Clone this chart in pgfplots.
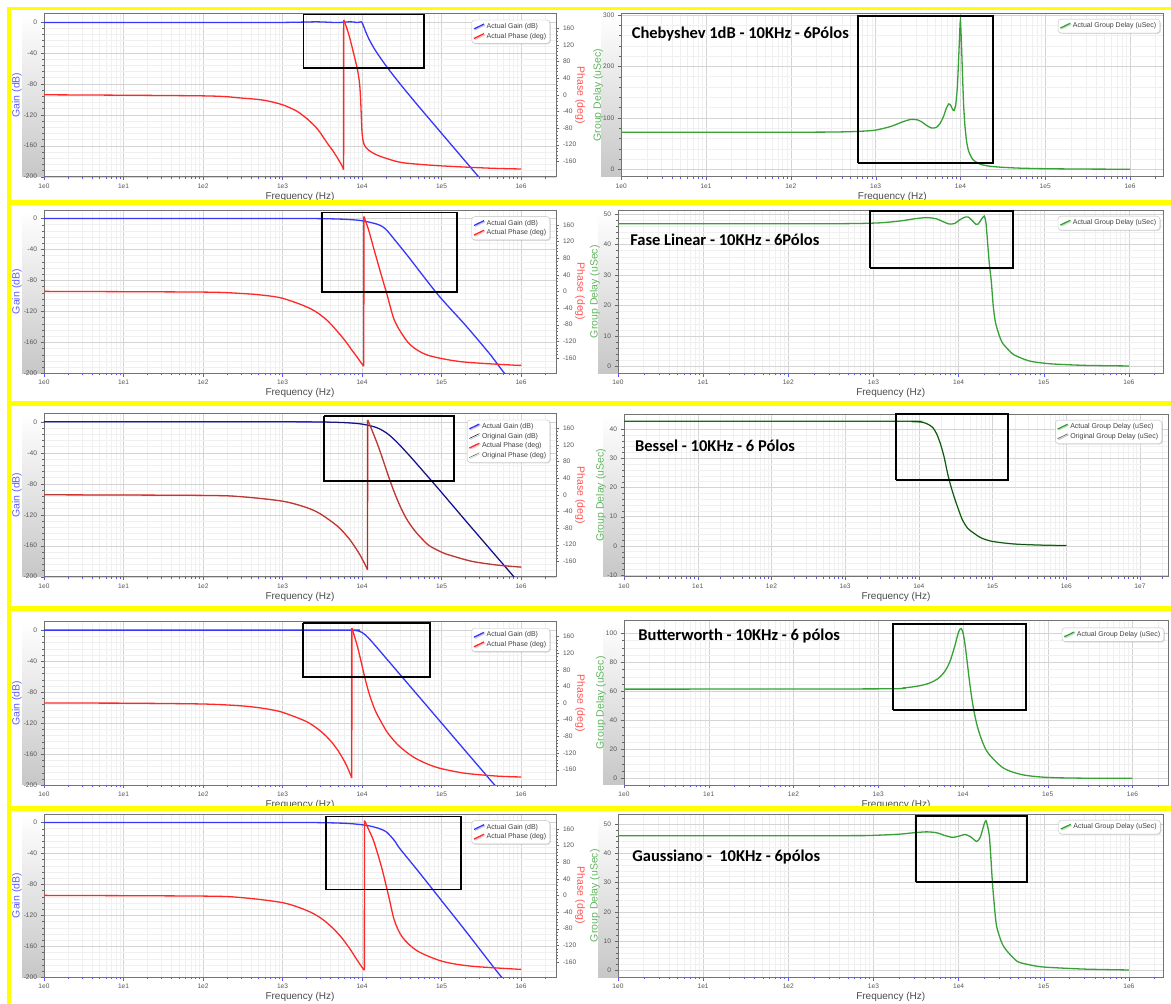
\documentclass[border=0pt]{standalone}
\usepackage{fontspec}
\setmainfont{Liberation Sans}
\newfontfamily\titlefont{Carlito}
\usepackage{pgfplots}
\pgfplotsset{compat=1.18}
\usetikzlibrary{shadows}

\definecolor{gaincol}{RGB}{55,55,250}
\definecolor{phasecol}{RGB}{255,40,40}
\definecolor{gdcol}{RGB}{55,160,55}
\definecolor{gainlbl}{RGB}{95,95,255}
\definecolor{phaselbl}{RGB}{255,85,85}
\definecolor{gdlbl}{RGB}{95,180,95}
\definecolor{ticklbl}{RGB}{85,85,85}
\definecolor{ylw}{RGB}{255,255,0}
\definecolor{origph}{RGB}{70,95,80}

\pgfplotsset{
  rkBase/.style={
    tick align=outside, major tick length=3.5pt, minor tick length=2pt,
    tick label style={font=\fontsize{6.6}{7}\selectfont, text=ticklbl},
    axis line style={black!55},
    legend cell align=left,
    legend style={font=\fontsize{7}{8}\selectfont, text=black!75, draw=black!25,
      rounded corners=3pt, fill=white, inner sep=1.6pt, row sep=-1pt,
      at={(1,1)}, anchor=north east,
      drop shadow={shadow xshift=1pt, shadow yshift=-1pt, opacity=0.25}},
    legend image code/.code={\draw[##1] (0pt,-2pt) -- (10pt,2.8pt);},
  },
  rkLow/.style={
    rkBase,
    xtick={1,10,100,1000,10000,100000,1000000,10000000},
    xticklabels={1e0,1e1,1e2,1e3,1e4,1e5,1e6,1e7},
    minor xtick={2,3,4,5,6,7,8,9,20,30,40,50,60,70,80,90,200,300,400,500,600,700,800,900,2000,3000,4000,5000,6000,7000,8000,9000,20000,30000,40000,50000,60000,70000,80000,90000,200000,300000,400000,500000,600000,700000,800000,900000,2000000,3000000,4000000,5000000,6000000,7000000,8000000,9000000,20000000},
    xtick pos=bottom, ytick pos=left,
    xtick style={color=blue!65},
    ytick style={color=black!60},
    grid=both,
    major grid style={black!17, line width=0.35pt},
    minor grid style={black!6, line width=0.35pt},
    xlabel={Frequency (Hz)},
    xlabel style={font=\fontsize{10}{12}\selectfont, text=black!70,
      at={(axis description cs:0.5,0)}, anchor=center, yshift=-20pt},
  },
  rkGain/.style={
    rkLow, width=512pt, height=163.4pt, xmax=2.75e6,
    ymin=-200, ymax=11,
    ytick={-200,-160,-120,-80,-40,0},
    yticklabels={-200,-160,-120,-80,-40,0},
    minor y tick num=4,
    ylabel={Gain (dB)},
    every axis y label/.style={at={(axis description cs:0,0.5)}, xshift=-27pt,
      rotate=90, anchor=center, font=\fontsize{10.5}{12}\selectfont, text=gainlbl},
  },
  rkPhase/.style={
    rkBase, width=512pt, height=163.4pt, xmax=2.75e6,
    axis x line=none, axis y line*=right,
    ymin=-197, ymax=196,
    ytick={-160,-120,-80,-40,0,40,80,120,160},
    yticklabels={-160,-120,-80,-40,0,40,80,120,160},
    minor y tick num=4,
    ytick style={color=black!60},
    ylabel={Phase (deg)},
    every axis y label/.style={at={(axis description cs:1,0.5)}, xshift=24pt,
      rotate=-90, anchor=center, font=\fontsize{10.5}{12}\selectfont, text=phaselbl},
    legend style={xshift=-6pt, yshift=-6.5pt},
  },
  rkGD/.style={
    rkLow, minor y tick num=4,
    ylabel={Group Delay (uSec)},
    every axis y label/.style={at={(axis description cs:0,0.5)}, xshift=-23pt,
      rotate=90, anchor=center, font=\fontsize{10.5}{12}\selectfont, text=gdlbl},
  },
}
\tikzset{
  rkG/.style={gaincol, line width=1.3pt},
  rkP/.style={phasecol, line width=1.3pt},
  rkV/.style={color=phasecol, line width=1.4pt, sharp plot},
  rkD/.style={gdcol, line width=1.3pt},
  rkBox/.style={black, line width=1.8pt},
  rkTtl/.style={anchor=west, font=\titlefont\bfseries\fontsize{16.5}{19}\selectfont},
  rkS/.style={smooth, tension=0.5},
}

\begin{document}
\begin{tikzpicture}
\useasboundingbox (0pt,0pt) rectangle (1171pt,1004pt);
\fill[white] (0pt,0pt) rectangle (1171pt,1004pt);

\shade[top color=white, bottom color=black!22] (22pt,827.3pt) rectangle (44pt,990.7pt);
\shade[top color=white, bottom color=black!22] (22pt,630.7pt) rectangle (44pt,794pt);
\shade[top color=white, bottom color=black!22] (22pt,427.3pt) rectangle (44pt,590.7pt);
\shade[top color=white, bottom color=black!22] (22pt,219pt) rectangle (44pt,382.3pt);
\shade[top color=white, bottom color=black!22] (22pt,26.7pt) rectangle (44pt,190pt);
\shade[top color=white, bottom color=black!22] (601pt,827.3pt) rectangle (621.2pt,990.7pt);
\shade[top color=white, bottom color=black!22] (598pt,630.7pt) rectangle (618pt,794pt);
\shade[top color=white, bottom color=black!22] (603pt,427.3pt) rectangle (624pt,590pt);
\shade[top color=white, bottom color=black!22] (603pt,219pt) rectangle (624pt,383.3pt);
\shade[top color=white, bottom color=black!22] (598pt,26.7pt) rectangle (618pt,190pt);

%================ ROW 1 : Chebyshev =================
\begin{axis}[xmode=log, xmin=1, scale only axis, rkGain, at={(44pt,827.3pt)}, anchor=south west]
\addplot[rkG, rkS] coordinates {(1,-1) (300,-0.97) (1000,-0.8) (2000,-0.3) (2600,0) (3500,-0.4) (4500,-0.9) (5000,-1) (6000,-0.4) (7100,0) (8000,-0.4) (8700,-1) (9300,-0.4) (9700,0) (10000,-1) (10500,-6) (11000,-11.6) (12000,-20.6) (13500,-30.5) (15000,-38.3) (20000,-56.7) (30000,-80) (50000,-107.6) (100000,-144) (200000,-180.3) (294000,-200.4) (320000,-204.4)};
\end{axis}
\begin{axis}[xmode=log, xmin=1, scale only axis, rkPhase, at={(44pt,827.3pt)}, anchor=south west]
\addlegendimage{rkG}
\addlegendentry{Actual Gain (dB)}
\addplot[rkP, rkS] coordinates {(1,0) (100,-2.6) (300,-7.8) (578,-13) (1000,-24) (1500,-39) (1780,-49) (2000,-56.3) (2600,-77) (3000,-92) (3800,-121) (4200,-132) (4800,-149) (5500,-168) (5800,-178) (5850,-180)};
\addlegendentry{Actual Phase (deg)}
\addplot[rkV, forget plot] coordinates {(5850,-180) (5880,180)};
\addplot[rkP, rkS, forget plot] coordinates {(5880,180) (6300,165.4) (6800,145.6) (7300,123.6) (7700,105.5) (8100,88.2) (8400,75.8) (8800,58.6) (9300,28) (9600,-12) (9800,-55) (10000,-91) (10300,-110) (10700,-121) (11200,-127) (12100,-133) (14000,-141) (17800,-149.5) (28700,-161.5) (44000,-166) (100000,-171) (400000,-176.5) (1000000,-178.5)};
\addplot[rkBox, forget plot] coordinates {(1832,193.2) (59800,193.2) (59800,63.8) (1832,63.8) (1832,193.2)};
\end{axis}

\begin{axis}[xmode=log, xmin=1, scale only axis, rkGD, at={(621.2pt,827.3pt)}, anchor=south west, width=542.3pt, height=163.4pt,
  xmax=2.48e6, ymin=-14.4, ymax=303, ytick={0,100,200,300}, yticklabels={0,100,200,300},
  legend style={xshift=-3.5pt, yshift=-5.7pt}]
\addplot[rkD, smooth, tension=0.35] coordinates {(1,72) (100,72) (300,72.3) (500,73) (700,74) (1000,76) (1500,83) (2000,91) (2400,95.5) (2700,97) (3100,96) (3500,92) (4000,85) (4500,80.5) (4800,80) (5200,81.5) (5700,88) (6300,102) (6800,118) (7300,127) (7700,124) (8100,116) (8400,114) (8800,125) (9200,160) (9500,210) (9800,265) (10000,291) (10300,240) (10600,180) (10900,125) (11300,85) (11800,55) (12500,35) (14000,19) (17000,10) (22000,6) (30000,4) (50000,2.2) (100000,1.1) (300000,0.4) (1000000,0.1)};
\addlegendentry{Actual Group Delay (uSec)}
\addplot[rkBox, forget plot] coordinates {(614,12.8) (24400,12.8) (24400,298) (614,298) (614,12.8)};
\node[rkTtl] at (axis description cs:0.013,0.873) {Chebyshev 1dB - 10KHz - 6Pólos};
\end{axis}

%================ ROW 2 : Fase Linear =================
\begin{axis}[xmode=log, xmin=1, scale only axis, rkGain, at={(44pt,630.7pt)}, anchor=south west]
\addplot[rkG, rkS] coordinates {(1,0) (1000,-0.05) (3000,-0.3) (5000,-0.8) (7000,-1.5) (10000,-3) (15000,-7) (18000,-10.5) (20700,-15.8) (25000,-26) (30000,-36) (40000,-52) (50000,-65) (86000,-96) (120000,-113) (200000,-138) (400000,-174.5) (620000,-200) (800000,-210)};
\end{axis}
\begin{axis}[xmode=log, xmin=1, scale only axis, rkPhase, at={(44pt,630.7pt)}, anchor=south west]
\addlegendimage{rkG}
\addlegendentry{Actual Gain (dB)}
\addplot[rkP, rkS] coordinates {(1,0) (100,-1.7) (300,-5) (525,-8.5) (1000,-16.6) (2200,-40.7) (3600,-68.8) (5800,-113) (7500,-142) (8600,-157) (9500,-169) (10500,-180)};
\addlegendentry{Actual Phase (deg)}
\addplot[rkV, forget plot] coordinates {(10500,-180) (10550,180)};
\addplot[rkP, rkS, forget plot] coordinates {(10550,180) (12000,150) (14000,104) (17000,47) (20700,-9) (25000,-65) (30500,-97) (40700,-129) (66000,-153) (174000,-169) (740000,-177) (1000000,-178)};
\addplot[rkBox, forget plot] coordinates {(3110,189.9) (155000,189.9) (155000,-1.4) (3110,-1.4) (3110,189.9)};
\end{axis}

\begin{axis}[xmode=log, xmin=1, scale only axis, rkGD, at={(618pt,630.7pt)}, anchor=south west, width=545.5pt, height=163.3pt,
  xmax=2.55e6, ymin=-2.2, ymax=51.3, ytick={0,10,20,30,40,50}, yticklabels={0,10,20,30,40,50},
  legend style={xshift=-3.5pt, yshift=-6pt}]
\addplot[rkD, smooth, tension=0.4] coordinates {(1,46.8) (300,46.8) (1000,47.0) (1500,47.3) (2200,47.8) (3000,48.4) (4200,48.8) (5500,48.4) (6800,47.3) (7800,46.7) (9000,46.9) (10500,48.2) (12000,49.0) (13000,49.0) (14500,47.8) (16000,46.6) (17000,46.7) (18500,48.2) (20000,49.3) (21000,47) (22000,40) (23000,33.5) (24200,28) (25500,20) (27000,14.7) (30000,10.2) (33000,7.6) (40000,5) (45000,3.8) (60000,2.3) (74000,1.6) (120000,0.9) (300000,0.4) (1000000,0.2)};
\addlegendentry{Actual Group Delay (uSec)}
\addplot[rkBox, forget plot] coordinates {(920,32.3) (44000,32.3) (44000,51) (920,51) (920,32.3)};
\node[rkTtl] at (axis description cs:0.016,0.816) {Fase Linear - 10KHz - 6Pólos};
\end{axis}

%================ ROW 3 : Bessel =================
\begin{axis}[xmode=log, xmin=1, scale only axis, rkGain, at={(44pt,427.3pt)}, anchor=south west]
\addplot[rkG, rkS] coordinates {(1,0) (1000,-0.03) (3000,-0.26) (5000,-0.72) (7000,-1.42) (10000,-2.96) (15000,-7.17) (20000,-13.93) (25000,-22.2) (30000,-30.34) (40000,-44.3) (50000,-55.54) (70000,-72.8) (100000,-91.2) (200000,-127.5) (500000,-175) (810000,-200) (1000000,-211)};
\addplot[black, line width=0.7pt, opacity=0.7, rkS] coordinates {(1,0) (1000,-0.03) (3000,-0.26) (5000,-0.72) (7000,-1.42) (10000,-2.96) (15000,-7.17) (20000,-13.93) (25000,-22.2) (30000,-30.34) (40000,-44.3) (50000,-55.54) (70000,-72.8) (100000,-91.2) (200000,-127.5) (500000,-175) (810000,-200) (1000000,-211)};
\end{axis}
\begin{axis}[xmode=log, xmin=1, scale only axis, rkPhase, at={(44pt,427.3pt)}, anchor=south west]
\addlegendimage{rkG}
\addlegendentry{Actual Gain (dB)}
\addlegendimage{black, line width=0.5pt}
\addlegendentry{Original Gain (dB)}
\addplot[rkP, rkS] coordinates {(1,0) (100,-1.5) (300,-4.6) (1000,-15.4) (2000,-30.7) (3000,-46.1) (5000,-76.9) (7000,-107.6) (9000,-138.3) (10000,-153.7) (10900,-167.5) (11700,-180)};
\addlegendentry{Actual Phase (deg)}
\addlegendimage{origph, line width=0.5pt}
\addlegendentry{Original Phase (deg)}
\addplot[rkV, color=phasecol!80!black, forget plot] coordinates {(11700,-180) (11760,180)};
\addplot[rkP, rkS, forget plot] coordinates {(11760,180) (13000,160.7) (15400,125.1) (17500,95.3) (19500,68.8) (22000,39.2) (24500,14.3) (27500,-9.9) (31000,-32.5) (35000,-52.5) (39000,-67.5) (46000,-86.3) (56000,-104.8) (70000,-122.4) (100000,-138) (126000,-145) (240000,-160) (500000,-169) (1000000,-174)};
\addplot[origph, line width=0.7pt, opacity=0.6, rkS, forget plot] coordinates {(1,0) (100,-1.5) (300,-4.6) (1000,-15.4) (2000,-30.7) (3000,-46.1) (5000,-76.9) (7000,-107.6) (9000,-138.3) (10000,-153.7) (10900,-167.5) (11700,-180)};
\addplot[origph, line width=0.7pt, opacity=0.6, rkS, forget plot] coordinates {(11760,180) (13000,160.7) (15400,125.1) (17500,95.3) (19500,68.8) (22000,39.2) (24500,14.3) (27500,-9.9) (31000,-32.5) (35000,-52.5) (39000,-67.5) (46000,-86.3) (56000,-104.8) (70000,-122.4) (100000,-138) (126000,-145) (240000,-160) (500000,-169) (1000000,-174)};
\addplot[rkBox, forget plot] coordinates {(3350,189.1) (145000,189.1) (145000,34) (3350,34) (3350,189.1)};
\end{axis}

\begin{axis}[xmode=log, xmin=1, scale only axis, rkGD, at={(624pt,427.3pt)}, anchor=south west, width=544pt, height=162.7pt,
  xmax=2.4e7, ymin=-10.6, ymax=45.2, ytick={-10,0,10,20,30,40}, yticklabels={-10,0,10,20,30,40},
  legend style={xshift=-6pt, yshift=-6pt}]
\addplot[rkD, rkS] coordinates {(1,42.7) (5000,42.7) (8000,42.6) (10900,42.4) (13000,41.8) (15400,40.6) (17500,38.3) (19500,35.2) (22000,30.5) (24500,24.9) (27500,20) (31000,15.8) (35000,12) (39000,8.9) (46000,6) (56000,4.3) (70000,2.7) (100000,1.5) (200000,0.6) (500000,0.2) (1000000,0.1)};
\addlegendentry{Actual Group Delay (uSec)}
\addplot[black, line width=0.7pt, opacity=0.6, rkS] coordinates {(1,42.7) (5000,42.7) (8000,42.6) (10900,42.4) (13000,41.8) (15400,40.6) (17500,38.3) (19500,35.2) (22000,30.5) (24500,24.9) (27500,20) (31000,15.8) (35000,12) (39000,8.9) (46000,6) (56000,4.3) (70000,2.7) (100000,1.5) (200000,0.6) (500000,0.2) (1000000,0.1)};
\addlegendentry{Original Group Delay (uSec)}
\addplot[rkBox, forget plot] coordinates {(4900,22.6) (162000,22.6) (162000,45.1) (4900,45.1) (4900,22.6)};
\node[rkTtl] at (axis description cs:0.014,0.803) {Bessel - 10KHz - 6 Pólos};
\end{axis}

%================ ROW 4 : Butterworth =================
\begin{axis}[xmode=log, xmin=1, scale only axis, rkGain, at={(44pt,219pt)}, anchor=south west]
\addplot[rkG, rkS] coordinates {(1,0) (5000,0) (7000,-0.06) (8000,-0.29) (9000,-1.08) (10000,-3.01) (11000,-6.17) (12000,-9.96) (13000,-13.86) (15000,-21.16) (20000,-36.12) (30000,-57.26) (50000,-83.9) (100000,-120) (200000,-156.1) (400000,-192.2) (500000,-203.6)};
\end{axis}
\begin{axis}[xmode=log, xmin=1, scale only axis, rkPhase, at={(44pt,219pt)}, anchor=south west]
\addlegendimage{rkG}
\addlegendentry{Actual Gain (dB)}
\addplot[rkP, rkS] coordinates {(1,0) (10,-0.2) (100,-2.2) (300,-6.6) (500,-11.1) (700,-15.5) (1000,-22.2) (2000,-44.5) (3000,-67.2) (4000,-90.4) (5000,-114.5) (6000,-139.9) (6500,-153.4) (7000,-167.5) (7420,-180)};
\addlegendentry{Actual Phase (deg)}
\addplot[rkV, forget plot] coordinates {(7420,-180) (7460,180)};
\addplot[rkP, rkS, forget plot] coordinates {(7460,180) (8000,161.8) (8500,144.8) (9000,126.9) (9500,108.4) (10000,90) (11000,56.4) (12000,29.4) (13000,8.3) (15000,-22) (20000,-65.5) (25000,-89.6) (30000,-105.2) (40000,-124.2) (50000,-135.5) (70000,-148.3) (100000,-157.8) (200000,-168.9) (500000,-175.6) (1000000,-177.8)};
\addplot[rkBox, forget plot] coordinates {(1820,193) (71000,193) (71000,61.9) (1820,61.9) (1820,193)};
\end{axis}

\begin{axis}[xmode=log, xmin=1, scale only axis, rkGD, at={(624pt,219pt)}, anchor=south west, width=544pt, height=164.3pt,
  xmax=2.63e6, ymin=-4.6, ymax=108.7, ytick={0,20,40,60,80,100}, yticklabels={0,20,40,60,80,100},
  minor y tick num=3,
  legend style={xshift=-4pt, yshift=-7pt}]
\addplot[rkD, rkS] coordinates {(1,61.5) (1000,61.7) (2000,62.4) (3000,63.7) (4000,65.6) (5000,68.5) (6000,73.1) (7000,80.3) (8000,91.1) (8500,97) (9000,101.7) (9500,103.3) (10000,100.5) (10500,93.7) (11000,84.5) (12000,66) (13000,51.7) (14000,41.7) (15000,34.5) (17000,25.1) (20000,17.1) (30000,7.1) (50000,2.5) (100000,0.62) (300000,0.07) (1000000,0.01)};
\addlegendentry{Actual Group Delay (uSec)}
\addplot[rkBox, forget plot] coordinates {(1500,47.1) (55000,47.1) (55000,106.4) (1500,106.4) (1500,47.1)};
\node[rkTtl] at (axis description cs:0.02,0.907) {Butterworth - 10KHz - 6 pólos};
\end{axis}

%================ ROW 5 : Gaussiano =================
\begin{axis}[xmode=log, xmin=1, scale only axis, rkGain, at={(44pt,26.7pt)}, anchor=south west]
\addplot[rkG, rkS] coordinates {(1,0) (1000,-0.05) (3000,-0.3) (5000,-0.8) (7000,-1.5) (10000,-3) (13000,-5) (16000,-7.5) (18500,-10) (20400,-12.5) (23000,-18) (26000,-24.5) (30000,-34) (50000,-62) (100000,-101) (200000,-140) (400000,-180) (570000,-200) (700000,-211)};
\end{axis}
\begin{axis}[xmode=log, xmin=1, scale only axis, rkPhase, at={(44pt,26.7pt)}, anchor=south west]
\addlegendimage{rkG}
\addlegendentry{Actual Gain (dB)}
\addplot[rkP, rkS] coordinates {(1,0) (100,-1.7) (300,-5.2) (1000,-17.5) (2000,-36) (3000,-54) (4200,-77) (5500,-101) (7000,-128) (8500,-153) (10000,-173) (10700,-180)};
\addlegendentry{Actual Phase (deg)}
\addplot[rkV, forget plot] coordinates {(10700,-180) (10750,180)};
\addplot[rkP, rkS, forget plot] coordinates {(10750,180) (12000,160) (14100,129) (17700,66) (21800,-5) (25500,-60) (32000,-100) (49000,-133) (100000,-158) (230000,-170) (1000000,-178)};
\addplot[rkBox, forget plot] coordinates {(3560,189.9) (174000,189.9) (174000,14) (3560,14) (3560,189.9)};
\end{axis}

\begin{axis}[xmode=log, xmin=1, scale only axis, rkGD, at={(618pt,26.7pt)}, anchor=south west, width=545.5pt, height=163.3pt,
  xmax=2.55e6, ymin=-2.4, ymax=53.4, ytick={0,10,20,30,40,50}, yticklabels={0,10,20,30,40,50},
  legend style={xshift=-3pt, yshift=-6pt}]
\addplot[rkD, smooth, tension=0.4] coordinates {(1,46) (500,46) (1000,46.1) (2000,46.5) (3000,47) (4200,47.3) (5500,47) (7000,46) (8500,45.4) (10000,45.8) (12000,46.4) (14000,45.5) (16300,44) (18000,45.5) (20000,50) (21000,51.1) (22000,49) (23000,45.7) (24000,38) (25000,29.7) (26500,21) (28000,14.9) (32000,9.5) (36000,7) (49000,3) (70000,1.8) (100000,1.1) (300000,0.4) (1000000,0.1)};
\addlegendentry{Actual Group Delay (uSec)}
\addplot[rkBox, forget plot] coordinates {(3150,30.2) (64000,30.2) (64000,52.7) (3150,52.7) (3150,30.2)};
\node[rkTtl] at (axis description cs:0.02,0.737) {Gaussiano -\ \ 10KHz - 6pólos};
\end{axis}

\fill[ylw] (7pt,993.5pt) rectangle (1171pt,997pt);
\fill[ylw] (7pt,798.5pt) rectangle (1171pt,803.5pt);
\fill[ylw] (7pt,598pt) rectangle (1171pt,602.5pt);
\fill[ylw] (7pt,393pt) rectangle (1171pt,397.5pt);
\fill[ylw] (7pt,193pt) rectangle (1171pt,197.5pt);
\fill[ylw] (7pt,0pt) rectangle (11pt,997pt);
\end{tikzpicture}
\end{document}
